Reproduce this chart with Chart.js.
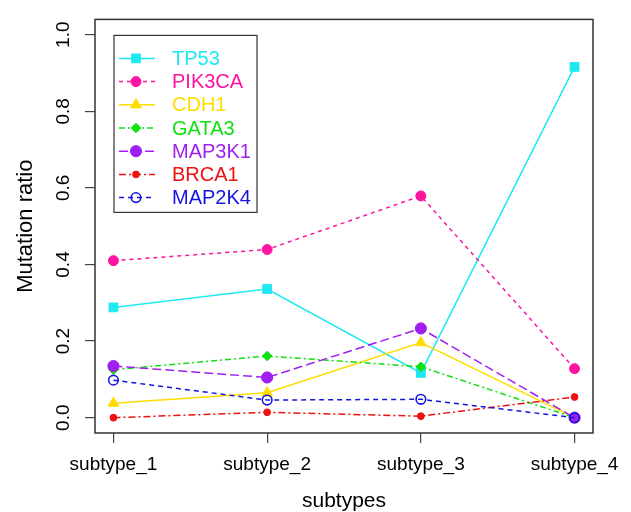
<!DOCTYPE html>
<html>
<head>
<meta charset="utf-8">
<script src="https://cdn.jsdelivr.net/npm/chart.js@4.4.1/dist/chart.umd.min.js"></script>
<style>
  html, body { margin: 0; padding: 0; background: #fff; }
</style>
</head>
<body>
<canvas id="chart" width="631" height="512"></canvas>
<script>
// categories on the x axis
const subtypes = ['subtype_1', 'subtype_2', 'subtype_3', 'subtype_4'];
const yTicks = [0, 0.2, 0.4, 0.6, 0.8, 1.0];

// mutation ratio per gene, one value per subtype
const tp53   = [0.288, 0.336, 0.117, 0.916];
const pik3ca = [0.410, 0.439, 0.579, 0.128];
const cdh1   = [0.038, 0.065, 0.196, 0.000];
const gata3  = [0.125, 0.161, 0.133, 0.000];
const map3k1 = [0.135, 0.105, 0.233, 0.000];
const brca1  = [0.000, 0.014, 0.004, 0.054];
const map2k4 = [0.098, 0.046, 0.048, 0.000];

const FONT = '"Liberation Sans", Arial, sans-serif';
Chart.defaults.font.family = FONT;
Chart.defaults.color = '#000';

const toPoints = (vals) => vals.map((v, i) => ({x: i + 1, y: v}));

// gene, values, colour, dash, marker, radius, filled
const series = [
    ['TP53',   tp53,   '#1EE8F2', [],           'rect',     6.2, true],
    ['PIK3CA', pik3ca, '#FF14A0', [4, 4],       'circle',   5,   true],
    ['CDH1',   cdh1,   '#FFDD00', [],           'triangle', 6.2, true],
    ['GATA3',  gata3,  '#11E011', [6, 3, 2, 3], 'rectRot',  4.8, true],
    ['MAP3K1', map3k1, '#A020F0', [9, 4],       'circle',   5.6, true],
    ['BRCA1',  brca1,  '#EE1111', [7, 3, 2, 3], 'circle',   3.4, true],
    ['MAP2K4', map2k4, '#1515E0', [5, 4],       'circle',   4.8, false]
];

let datasets = series.map(([name, vals, color, dash, style, r, filled], i) => ({
    label: name,
    data: toPoints(vals),
    borderColor: color,
    borderWidth: 1.5,
    borderDash: dash,
    pointStyle: style,
    pointRadius: r,
    pointHoverRadius: r,
    pointBackgroundColor: filled ? color : 'rgba(0,0,0,0)',
    pointBorderColor: color,
    pointBorderWidth: filled ? 1 : 1.6,
    tension: 0,
    order: series.length - i // later genes drawn on top, as in the original
}));

// small marker drawer for the legend
function marker(ctx, style, x, y, r) {
    ctx.beginPath();
    if (style === 'rect') {
        let s = r * Math.SQRT1_2;
        ctx.rect(x - s, y - s, 2 * s, 2 * s);
    } else if (style === 'triangle') {
        ctx.moveTo(x, y - r);
        ctx.lineTo(x + r * 0.866, y + r * 0.5);
        ctx.lineTo(x - r * 0.866, y + r * 0.5);
        ctx.closePath();
    } else if (style === 'rectRot') {
        ctx.moveTo(x, y - r); ctx.lineTo(x + r, y); ctx.lineTo(x, y + r); ctx.lineTo(x - r, y);
        ctx.closePath();
    } else {
        ctx.arc(x, y, r, 0, Math.PI * 2);
    }
    ctx.fill();
    ctx.stroke();
}

const boxAndLegend = {
    id: 'boxAndLegend',
    afterDraw(chart) {
        const {ctx, chartArea: a} = chart;
        ctx.save();
        ctx.strokeStyle = '#333';
        ctx.lineWidth = 1.5;
        ctx.strokeRect(a.left, a.top, a.right - a.left, a.bottom - a.top);

        // legend box in the top left corner of the plot
        const lx = a.left + 19, ly = a.top + 16;
        ctx.lineWidth = 1.2;
        ctx.strokeRect(lx, ly, 143, 177);
        ctx.font = '20px ' + FONT;
        ctx.textBaseline = 'middle';
        chart.data.datasets.forEach((ds, i) => {
            let y = ly + 23 + i * 23.2;
            ctx.strokeStyle = ds.borderColor;
            ctx.lineWidth = ds.borderWidth;
            ctx.setLineDash(ds.borderDash);
            ctx.beginPath();
            ctx.moveTo(lx + 5, y);
            ctx.lineTo(lx + 41, y);
            ctx.stroke();
            ctx.setLineDash([]);
            ctx.fillStyle = ds.pointBackgroundColor;
            ctx.lineWidth = ds.pointBorderWidth;
            marker(ctx, ds.pointStyle, lx + 22, y, ds.pointRadius);
            ctx.fillStyle = ds.borderColor;
            ctx.fillText(ds.label, lx + 58, y + 1);
        });
        ctx.restore();
    }
};

new Chart(document.getElementById('chart'), {
    type: 'line',
    data: {datasets: datasets},
    options: {
        responsive: false,
        animation: false,
        events: [],
        layout: {padding: {top: 10, right: 38, left: 0, bottom: 0}},
        plugins: {legend: {display: false}, tooltip: {enabled: false}},
        scales: {
            x: {
                type: 'linear',
                min: 0.88,
                max: 4.12,
                afterBuildTicks: (s) => { s.ticks = subtypes.map((c, i) => ({value: i + 1})); },
                afterFit: (s) => { s.height = 79; },
                border: {display: false},
                grid: {drawOnChartArea: false, drawTicks: true, tickLength: 10, color: '#444', lineWidth: 1.2},
                ticks: {
                    autoSkip: false,
                    maxRotation: 0,
                    padding: 10,
                    font: {size: 19},
                    callback: (v) => subtypes[v - 1]
                },
                title: {display: true, text: 'subtypes', font: {size: 21, lineHeight: 1}, padding: {bottom: 0}}
            },
            y: {
                type: 'linear',
                min: -0.04,
                max: 1.04,
                afterBuildTicks: (s) => { s.ticks = yTicks.map(v => ({value: v})); },
                afterFit: (s) => { s.width = 95; },
                border: {display: false},
                grid: {drawOnChartArea: false, drawTicks: true, tickLength: 10, color: '#444', lineWidth: 1.2},
                ticks: {
                    minRotation: 90,
                    maxRotation: 90,
                    crossAlign: 'center',
                    padding: 8,
                    font: {size: 19},
                    callback: (v) => v.toFixed(1)
                },
                title: {display: true, text: 'Mutation ratio', font: {size: 22, lineHeight: 1}, padding: {top: 15}}
            }
        }
    },
    plugins: [boxAndLegend]
});
</script>
</body>
</html>
